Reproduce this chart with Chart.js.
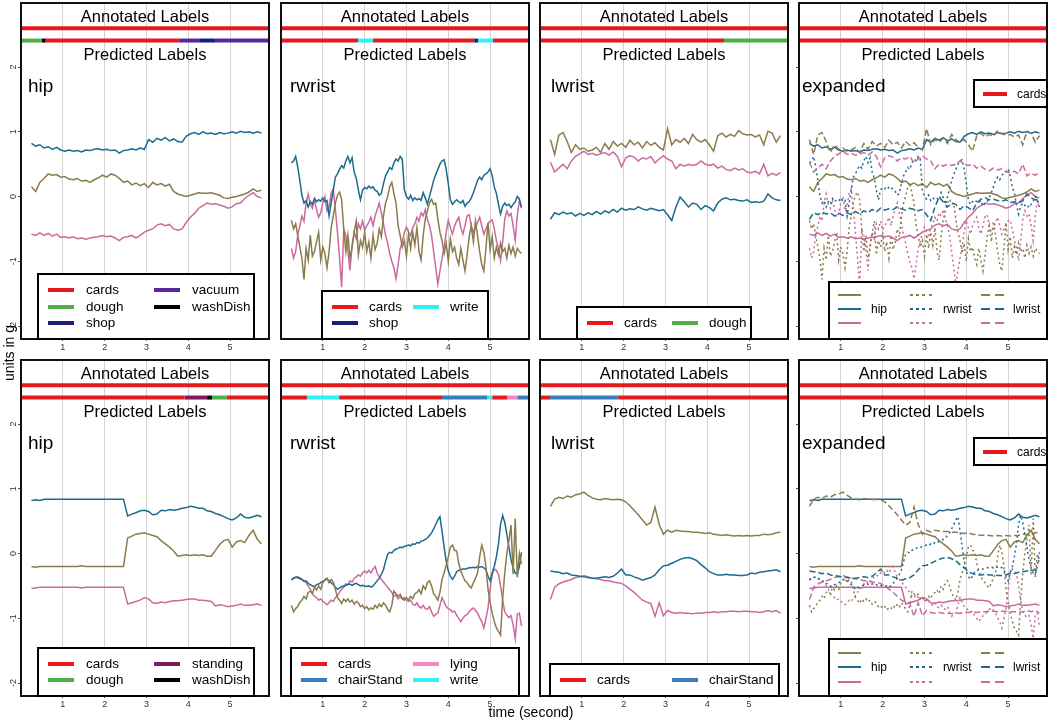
<!DOCTYPE html>
<html><head><meta charset="utf-8">
<script src="https://cdn.jsdelivr.net/npm/chart.js@4.4.1/dist/chart.umd.min.js"></script>
<style>
html,body{margin:0;padding:0;background:#fff;}
body{width:1050px;height:720px;position:relative;overflow:hidden;font-family:"Liberation Sans",Arial,Helvetica,sans-serif;color:#000;}
canvas{position:absolute;}
.txt{position:absolute;white-space:nowrap;line-height:1;z-index:7;}
.lg{position:absolute;background:#fff;border:2px solid #000;box-sizing:border-box;z-index:5;}
.ln{position:absolute;z-index:6;}
</style></head><body>
<script>
// ---------------- DATA ----------------
const T = [0.25,0.35,0.45,0.55,0.65,0.75,0.85,0.95,1.05,1.15,1.25,1.35,1.45,1.55,1.65,1.75,1.85,1.95,2.05,2.15,2.25,2.35,2.45,2.55,2.65,2.75,2.85,2.95,3.05,3.15,3.25,3.35,3.45,3.55,3.65,3.75,3.85,3.95,4.05,4.15,4.25,4.35,4.45,4.55,4.65,4.75,4.85,4.95,5.05,5.15,5.25,5.35,5.45,5.55,5.65,5.75];
const T2 = [0.25,0.3,0.35,0.4,0.45,0.5,0.55,0.6,0.65,0.7,
0.75,0.8,0.85,0.9,0.95,1,1.05,1.1,1.15,1.2,
1.25,1.3,1.35,1.4,1.45,1.5,1.55,1.6,1.65,1.7,
1.75,1.8,1.85,1.9,1.95,2,2.05,2.1,2.15,2.2,
2.25,2.3,2.35,2.4,2.45,2.5,2.55,2.6,2.65,2.7,
2.75,2.8,2.85,2.9,2.95,3,3.05,3.1,3.15,3.2,
3.25,3.3,3.35,3.4,3.45,3.5,3.55,3.6,3.65,3.7,
3.75,3.8,3.85,3.9,3.95,4,4.05,4.1,4.15,4.2,
4.25,4.3,4.35,4.4,4.45,4.5,4.55,4.6,4.65,4.7,
4.75,4.8,4.85,4.9,4.95,5,5.05,5.1,5.15,5.2,
5.25,5.3,5.35,5.4,5.45,5.5,5.55,5.6,5.65,5.7,
5.75];

const xTickValues = [1,2,3,4,5];
const yTickValues = [-2,-1,0,1,2];

// top row: hip
const hipTopOlive = [0.15,0.08,0.22,0.28,0.35,0.33,0.34,0.3,0.31,0.27,
0.26,0.28,0.24,0.25,0.22,0.26,0.29,0.33,0.3,0.35,
0.33,0.28,0.22,0.24,0.18,0.21,0.17,0.2,0.14,0.22,
0.18,0.2,0.16,0.19,0.08,0.04,0.02,0.0,0.02,0.04,
0.06,0.05,0.05,0.06,0.04,0.02,-0.02,-0.03,-0.01,0.0,
0.02,0.04,0.07,0.12,0.08,0.1];
const hipTopBlue = [0.82,0.78,0.8,0.75,0.77,0.73,0.76,0.72,0.7,0.72,
0.7,0.71,0.69,0.72,0.71,0.73,0.74,0.72,0.73,0.71,
0.72,0.67,0.71,0.72,0.74,0.72,0.75,0.73,0.88,0.84,
0.9,0.87,0.91,0.86,0.89,0.85,0.84,0.93,0.97,0.99,
0.96,1.0,0.97,0.98,0.96,0.99,0.97,0.98,1.0,0.98,
1.01,0.99,1.0,0.98,1.0,0.98];
const hipTopPink = [-0.58,-0.6,-0.56,-0.6,-0.57,-0.61,-0.58,-0.63,-0.62,-0.64,
-0.62,-0.65,-0.64,-0.66,-0.64,-0.63,-0.62,-0.6,-0.62,-0.61,
-0.64,-0.68,-0.63,-0.62,-0.6,-0.64,-0.6,-0.55,-0.52,-0.5,
-0.44,-0.42,-0.45,-0.43,-0.5,-0.52,-0.5,-0.4,-0.32,-0.26,
-0.18,-0.14,-0.1,-0.12,-0.11,-0.13,-0.15,-0.18,-0.16,-0.11,
-0.1,-0.03,0.02,0.06,0.0,-0.02];

// top row: rwrist
const rwTopOlive = [-0.37,-0.5,-0.42,-0.6,-0.78,-0.95,-1.28,-0.8,-0.98,-0.6,
-0.92,-0.85,-0.7,-0.55,-0.98,-0.78,-0.88,-1.1,-0.85,-0.48,
-0.3,-0.1,0.02,0.07,-0.05,-0.5,-0.85,-0.6,-0.95,-0.78,
-0.55,-0.38,-0.9,-0.68,-0.78,-0.55,-0.85,-0.7,-0.95,-0.6,
-0.82,-0.72,-0.5,-0.62,-0.3,-0.1,0.0,0.15,0.22,0.05,
-0.1,-0.45,-0.6,-0.78,-0.68,-0.92,-0.58,-0.8,-0.55,-0.75,
-0.48,-0.85,-0.98,-0.6,-0.35,-0.22,-0.1,-0.04,-0.12,-0.1,
-0.35,-0.55,-0.68,-0.88,-0.72,-1.0,-0.65,-0.85,-0.78,-0.95,
-1.05,-0.8,-0.98,-1.15,-0.9,-0.62,-0.45,-0.7,-0.38,-0.6,
-0.85,-1.05,-1.15,-0.8,-0.4,-0.82,-0.62,-0.95,-0.78,-0.9,
-0.72,-0.85,-0.8,-0.95,-0.75,-0.88,-0.78,-0.92,-0.8,-0.85,
-0.88];
const rwTopBlue = [0.52,0.55,0.62,0.46,0.25,0.02,-0.1,-0.06,-0.16,-0.08,
-0.12,-0.03,-0.08,-0.05,-0.07,-0.02,-0.08,-0.06,-0.3,-0.1,
0.1,0.3,0.35,0.42,0.48,0.44,0.55,0.62,0.52,0.6,
0.38,0.28,0.1,-0.05,0.1,0.14,0.12,0.16,0.13,0.15,
0.1,0.08,0.02,0.05,0.2,0.32,0.38,0.45,0.42,0.52,
0.58,0.55,0.62,0.58,0.1,0.0,-0.04,0.02,-0.06,-0.02,
-0.05,-0.03,-0.06,0.06,-0.02,-0.12,0.0,0.12,0.25,0.34,
0.42,0.5,0.55,0.57,0.42,0.2,-0.05,-0.12,-0.08,-0.05,
-0.08,-0.1,-0.06,-0.15,-0.1,-0.08,-0.02,0.06,0.15,0.25,
0.3,0.26,0.33,0.35,0.38,0.43,0.32,0.15,0.05,-0.12,
-0.27,-0.15,-0.1,-0.14,-0.12,-0.17,-0.12,-0.08,0.0,-0.04,
-0.16];
const rwTopPink = [-0.8,-0.95,-0.85,-0.6,-0.45,-0.3,-0.38,-0.1,0.04,-0.12,
-0.18,-0.05,-0.2,-0.32,-0.25,-0.1,0.0,-0.22,-0.15,0.05,
0.12,-0.2,-0.55,-0.95,-1.4,-0.5,-0.6,-0.85,-1.14,-0.75,
-0.55,-0.65,-0.42,-0.5,-0.38,-0.52,-0.45,-0.4,-0.32,-0.45,
-0.3,-0.2,-0.1,-0.25,-0.42,-0.6,-0.72,-0.88,-1.0,-1.1,
-1.27,-1.05,-0.8,-0.7,-0.55,-0.47,-0.55,-0.6,-0.48,-0.42,
-0.32,-0.38,-0.25,-0.3,-0.2,-0.35,-0.45,-0.6,-0.85,-1.1,
-1.35,-1.15,-0.95,-0.78,-0.55,-0.37,-0.48,-0.58,-0.45,-0.38,
-0.32,-0.48,-0.58,-0.45,-0.3,-0.28,-0.45,-0.55,-0.48,-0.4,
-0.32,-0.45,-0.58,-0.5,-0.42,-0.38,-0.36,-0.5,-0.68,-0.8,
-0.99,-0.7,-0.35,-0.22,-0.3,-0.26,-0.45,-0.68,-0.3,-0.06,
-0.18];

// top row: lwrist
const lwTopOlive = [0.88,0.65,0.95,0.99,0.85,0.68,0.8,0.73,0.75,0.7,
0.72,0.76,0.68,0.82,0.73,0.85,0.78,0.82,0.76,0.87,
0.8,0.84,0.75,0.85,0.79,0.83,0.76,0.72,1.05,0.8,
0.88,0.84,0.9,0.82,0.96,0.88,0.84,0.88,0.8,0.7,
0.94,0.98,0.92,0.96,0.93,1.02,0.97,0.95,0.96,0.92,
0.95,0.8,1.01,0.98,0.84,0.94];
const lwTopBlue = [-0.35,-0.25,-0.28,-0.24,-0.27,-0.25,-0.3,-0.26,-0.29,-0.25,
-0.28,-0.23,-0.27,-0.22,-0.25,-0.2,-0.24,-0.18,-0.21,-0.19,
-0.2,-0.16,-0.19,-0.21,-0.18,-0.2,-0.22,-0.2,-0.28,-0.37,
-0.16,-0.01,-0.08,-0.16,-0.1,-0.12,-0.2,-0.14,-0.17,-0.22,
-0.1,-0.04,-0.02,-0.05,-0.04,-0.06,-0.07,-0.05,-0.09,-0.08,
-0.09,-0.07,0.04,-0.02,-0.05,-0.06];
const lwTopPink = [0.53,0.38,0.44,0.5,0.43,0.55,0.62,0.66,0.7,0.65,
0.67,0.64,0.66,0.68,0.64,0.69,0.62,0.46,0.6,0.63,
0.61,0.55,0.6,0.58,0.62,0.52,0.58,0.63,0.58,0.55,
0.43,0.5,0.47,0.5,0.48,0.5,0.55,0.5,0.48,0.5,
0.44,0.47,0.42,0.4,0.44,0.41,0.43,0.38,0.37,0.39,
0.35,0.5,0.32,0.36,0.33,0.37];

// bottom row: hip
const hipBotOlive = [-0.2,-0.21,-0.2,-0.2,-0.2,-0.2,-0.2,-0.2,-0.2,-0.2,
-0.2,-0.2,-0.19,-0.2,-0.2,-0.2,-0.2,-0.2,-0.2,-0.2,
-0.2,-0.2,-0.2,0.24,0.27,0.3,0.31,0.32,0.3,0.28,
0.26,0.2,0.15,0.1,0.04,-0.04,-0.03,-0.02,-0.03,-0.02,
-0.03,-0.02,-0.04,-0.04,0.05,0.14,0.2,0.22,0.1,0.18,
0.2,0.17,0.28,0.36,0.22,0.15];
const hipBotBlue = [0.82,0.83,0.82,0.84,0.84,0.84,0.84,0.84,0.84,0.84,
0.84,0.84,0.84,0.84,0.84,0.84,0.84,0.84,0.84,0.84,
0.84,0.84,0.84,0.58,0.61,0.63,0.66,0.67,0.65,0.6,
0.61,0.67,0.66,0.68,0.67,0.68,0.7,0.71,0.73,0.72,
0.7,0.7,0.66,0.65,0.62,0.6,0.57,0.54,0.52,0.55,
0.61,0.56,0.55,0.57,0.59,0.57];
const hipBotPink = [-0.54,-0.53,-0.52,-0.52,-0.52,-0.52,-0.52,-0.52,-0.52,-0.52,
-0.52,-0.52,-0.53,-0.52,-0.52,-0.52,-0.52,-0.52,-0.52,-0.52,
-0.52,-0.52,-0.52,-0.78,-0.76,-0.74,-0.72,-0.68,-0.7,-0.76,
-0.77,-0.75,-0.76,-0.74,-0.73,-0.73,-0.72,-0.71,-0.7,-0.7,
-0.72,-0.72,-0.73,-0.74,-0.81,-0.79,-0.8,-0.82,-0.81,-0.8,
-0.78,-0.8,-0.8,-0.79,-0.78,-0.8];

// bottom row: rwrist
const rwBotOlive = [-0.8,-0.9,-0.85,-0.82,-0.75,-0.72,-0.66,-0.7,-0.6,-0.58,
-0.62,-0.52,-0.56,-0.5,-0.55,-0.45,-0.4,-0.38,-0.45,-0.4,
-0.44,-0.55,-0.68,-0.72,-0.77,-0.7,-0.74,-0.7,-0.75,-0.72,
-0.78,-0.74,-0.76,-0.82,-0.8,-0.85,-0.82,-0.87,-0.84,-0.86,
-0.8,-0.84,-0.78,-0.82,-0.76,-0.8,-0.86,-0.9,-0.8,-0.58,
-0.62,-0.66,-0.63,-0.7,-0.72,-0.68,-0.72,-0.66,-0.7,-0.62,
-0.6,-0.56,-0.62,-0.5,-0.55,-0.45,-0.42,-0.5,-0.62,-0.66,
-0.72,-0.6,-0.4,-0.3,-0.18,-0.05,0.1,0.13,0.05,0.04,
-0.15,-0.27,-0.35,-0.42,-0.45,-0.5,-0.53,-0.45,-0.38,-0.3,
-0.05,0.13,0.02,-0.2,-0.55,-0.75,-0.92,-1.05,-1.15,-1.2,
-1.26,-0.7,-0.3,0.0,0.2,0.44,-0.32,0.54,-0.37,0.0,
-0.16];
const rwBotBlue = [-0.41,-0.38,-0.37,-0.36,-0.39,-0.4,-0.43,-0.42,-0.46,-0.48,
-0.5,-0.51,-0.48,-0.47,-0.45,-0.43,-0.41,-0.39,-0.42,-0.45,
-0.48,-0.52,-0.55,-0.53,-0.51,-0.5,-0.49,-0.48,-0.47,-0.49,
-0.47,-0.46,-0.48,-0.5,-0.49,-0.5,-0.51,-0.5,-0.52,-0.5,
-0.46,-0.42,-0.38,-0.32,-0.25,-0.12,-0.01,0.02,0.01,0.05,
0.07,0.08,0.1,0.09,0.11,0.12,0.13,0.12,0.15,0.14,
0.17,0.16,0.19,0.2,0.22,0.24,0.28,0.32,0.38,0.45,
0.52,0.57,0.35,0.1,-0.12,-0.27,-0.35,-0.4,-0.35,-0.28,
-0.26,-0.25,-0.24,-0.24,-0.23,-0.22,-0.22,-0.21,-0.22,-0.2,
-0.21,-0.2,-0.22,-0.25,-0.35,-0.42,-0.3,-0.2,-0.05,0.15,
0.45,0.59,0.48,0.3,0.1,-0.1,-0.21,-0.3,-0.32,-0.2,
0.02];
const rwBotPink = [-0.4,-0.38,-0.36,-0.38,-0.37,-0.4,-0.42,-0.45,-0.5,-0.55,
-0.62,-0.66,-0.68,-0.72,-0.7,-0.74,-0.76,-0.79,-0.76,-0.72,
-0.74,-0.68,-0.65,-0.6,-0.55,-0.52,-0.47,-0.48,-0.42,-0.44,
-0.38,-0.36,-0.33,-0.35,-0.3,-0.27,-0.3,-0.26,-0.3,-0.24,
-0.2,-0.3,-0.36,-0.4,-0.44,-0.48,-0.52,-0.56,-0.6,-0.66,
-0.64,-0.7,-0.67,-0.7,-0.68,-0.72,-0.74,-0.72,-0.78,-0.8,
-0.76,-0.82,-0.84,-0.8,-0.85,-0.86,-0.82,-0.9,-0.97,-0.94,
-0.92,-0.8,-0.68,-0.75,-0.82,-0.85,-0.87,-0.9,-0.89,-0.95,
-1.0,-1.05,-1.0,-0.96,-0.94,-0.9,-0.86,-0.84,-0.88,-0.92,
-0.99,-1.05,-1.15,-1.0,-0.84,-0.55,-0.32,-0.24,-0.26,-0.32,
-0.5,-0.72,-0.9,-0.95,-0.99,-0.96,-1.1,-1.31,-0.94,-0.92,
-1.12];

// bottom row: lwrist
const lwBotOlive = [0.73,0.84,0.87,0.85,0.89,0.87,0.91,0.92,0.95,0.9,
0.86,0.84,0.83,0.85,0.84,0.83,0.84,0.83,0.8,0.74,
0.67,0.6,0.52,0.44,0.48,0.72,0.45,0.3,0.36,0.33,
0.36,0.35,0.34,0.34,0.33,0.33,0.32,0.31,0.32,0.3,
0.29,0.28,0.29,0.28,0.27,0.28,0.27,0.28,0.27,0.28,
0.28,0.3,0.29,0.3,0.32,0.33];
const lwBotBlue = [-0.27,-0.28,-0.29,-0.31,-0.3,-0.33,-0.34,-0.35,-0.36,-0.37,
-0.38,-0.38,-0.37,-0.36,-0.37,-0.35,-0.3,-0.24,-0.33,-0.33,
-0.36,-0.38,-0.41,-0.39,-0.37,-0.33,-0.25,-0.19,-0.18,-0.15,
-0.12,-0.09,-0.07,-0.06,-0.08,-0.11,-0.17,-0.22,-0.28,-0.31,
-0.33,-0.33,-0.32,-0.33,-0.33,-0.34,-0.34,-0.33,-0.3,-0.31,
-0.29,-0.28,-0.27,-0.26,-0.25,-0.28];
const lwBotPink = [-0.71,-0.52,-0.47,-0.44,-0.42,-0.4,-0.37,-0.36,-0.34,-0.36,
-0.38,-0.39,-0.4,-0.42,-0.42,-0.44,-0.45,-0.46,-0.5,-0.55,
-0.6,-0.66,-0.72,-0.75,-0.77,-0.97,-0.76,-0.96,-0.88,-0.91,
-0.92,-0.91,-0.92,-0.92,-0.93,-0.92,-0.92,-0.91,-0.91,-0.9,
-0.91,-0.9,-0.9,-0.89,-0.89,-0.9,-0.89,-0.89,-0.9,-0.9,
-0.91,-0.9,-0.88,-0.9,-0.88,-0.92];

// activity label segments (names + boundaries in seconds)
const annLabels = ['cards'];
const annBounds = [0, 5.93];
const predTopHipLabels = ['dough','washDish','cards','vacuum','shop','vacuum'];
const predTopHipBounds = [0,0.5,0.59,3.8,4.28,4.64,5.93];
const predTopRwLabels = ['cards','write','cards','shop','write','cards'];
const predTopRwBounds = [0,1.84,2.2,4.62,4.71,5.07,5.93];
const predTopLwLabels = ['cards','dough'];
const predTopLwBounds = [0,4.4,5.93];
const predTopExLabels = ['cards'];
const predTopExBounds = [0,5.93];
const predBotHipLabels = ['cards','standing','washDish','dough','cards'];
const predBotHipBounds = [0,3.91,4.45,4.57,4.92,5.93];
const predBotRwLabels = ['cards','write','cards','chairStand','write','cards','lying','chairStand'];
const predBotRwBounds = [0,0.62,1.39,3.85,4.93,5.05,5.41,5.65,5.93];
const predBotLwLabels = ['cards','chairStand','cards'];
const predBotLwBounds = [0,0.24,1.87,5.93];
const predBotExLabels = ['cards'];
const predBotExBounds = [0,5.93];

// legend entries
const legTopHip = [['cards','dough','shop'],['vacuum','washDish']];
const legTopRw = [['cards','shop'],['write']];
const legTopLw = [['cards'],['dough']];
const legTopEx = [['cards']];
const legBotHip = [['cards','dough'],['standing','washDish']];
const legBotRw = [['cards','chairStand'],['lying','write']];
const legBotLw = [['cards'],['chairStand']];
const legBotEx = [['cards']];
const sensorNames = ['hip','rwrist','lwrist'];

// ---------------- STYLE / LAYOUT ----------------
const FONT = "'Liberation Sans', Arial, Helvetica, sans-serif";
Chart.defaults.font.family = FONT;
const X_MIN = 0, X_MAX = 5.93, Y_MIN = -2.2, Y_MAX = 2.99;
const Y_ANN = 2.6, Y_PRED = 2.41;
const COL_LEFT = [21, 281, 540, 799];
const ROW_TOP = [3, 360];
const PW = 248, PH = 336;
const PAD = {l:24, r:4, t:4, b:18};
const NAME_DX = {hip:7, rwrist:9, lwrist:11, expanded:3};
const SCOL = ['#8b7c4b', '#1c6a8d', '#cb6a9e'];
const LCOL = {cards:'#e41a1c', dough:'#4daf4a', shop:'#1c1c7a', vacuum:'#56289a', washDish:'#000000',
  write:'#2ff0f5', chairStand:'#3a7dbb', lying:'#f585c0', standing:'#7f1a5e'};
const DASH = {solid:[], dotted:[2,3], dashed:[6,3]};

const framePlugin = {id:'frame', afterDatasetsDraw(chart){
  const a = chart.chartArea, ctx = chart.ctx;
  ctx.save(); ctx.strokeStyle = '#111'; ctx.lineWidth = 2;
  ctx.strokeRect(a.left, a.top, a.right - a.left, a.bottom - a.top);
  ctx.restore();
}};
const yLabelPlugin = {id:'ylab', afterDraw(chart){
  const s = chart.scales.y, a = chart.chartArea, ctx = chart.ctx;
  ctx.save(); ctx.fillStyle = '#333'; ctx.font = '9px ' + FONT;
  ctx.textAlign = 'center'; ctx.textBaseline = 'middle';
  yTickValues.forEach(v => {
    const y = s.getPixelForValue(v);
    ctx.save(); ctx.translate(a.left - 7, y); ctx.rotate(-Math.PI/2);
    ctx.fillText(String(v), 0, 0); ctx.restore();
  });
  ctx.restore();
}};

function segDatasets(labels, bounds, yv){
  return labels.map((lab, i) => ({
    data:[{x:bounds[i], y:yv},{x:bounds[i+1], y:yv}],
    borderColor: LCOL[lab], borderWidth: 4, pointRadius: 0, borderCapStyle:'butt', fill:false
  }));
}
function lineDataset(times, vals, colorIdx, dash){
  return {data: times.map((t,i) => ({x:t, y:vals[i]})), borderColor: SCOL[colorIdx],
    borderWidth: 1.5, pointRadius: 0, borderDash: DASH[dash], fill:false, tension:0};
}

function addText(str, x, y, size, center){
  const d = document.createElement('div');
  d.className = 'txt'; d.textContent = str;
  d.style.left = x + 'px'; d.style.top = y + 'px'; d.style.fontSize = size + 'px';
  d.style.transform = center ? 'translate(-50%,-50%)' : 'translateY(-50%)';
  document.body.appendChild(d); return d;
}
function addBox(b){
  const d = document.createElement('div'); d.className = 'lg';
  d.style.left = b[0]+'px'; d.style.top = b[1]+'px';
  d.style.width = (b[2]-b[0])+'px'; d.style.height = (b[3]-b[1])+'px';
  document.body.appendChild(d);
}
function addLine(x, y, w, th, color, pat){
  const d = document.createElement('div'); d.className = 'ln';
  d.style.left = x+'px'; d.style.top = (y - th/2)+'px'; d.style.width = w+'px'; d.style.height = th+'px';
  d.style.background = pat ? `repeating-linear-gradient(to right, ${color} 0 ${pat[0]}px, transparent ${pat[0]}px ${pat[0]+pat[1]}px)` : color;
  document.body.appendChild(d);
}

function buildPanel(p){
  const L = COL_LEFT[p.col], TP = ROW_TOP[p.row];
  const cv = document.createElement('canvas');
  cv.width = PW + PAD.l + PAD.r; cv.height = PH + PAD.t + PAD.b;
  cv.style.left = (L - PAD.l) + 'px'; cv.style.top = (TP - PAD.t) + 'px';
  cv.style.width = cv.width + 'px'; cv.style.height = cv.height + 'px';
  document.body.appendChild(cv);
  const datasets = [].concat(
    segDatasets(annLabels, annBounds, Y_ANN),
    segDatasets(p.pred[0], p.pred[1], Y_PRED),
    p.lines.map(l => lineDataset(l[0], l[1], l[2], l[3]))
  );
  new Chart(cv, {
    type:'line', data:{datasets},
    options:{
      responsive:false, animation:false, devicePixelRatio:1, events:[],
      layout:{padding:{top:PAD.t, right:PAD.r, left:0, bottom:0}},
      plugins:{legend:{display:false}, tooltip:{enabled:false}},
      scales:{
        x:{type:'linear', min:X_MIN, max:X_MAX,
          afterBuildTicks(s){ s.ticks = xTickValues.map(v => ({value:v})); },
          afterFit(s){ s.height = PAD.b; },
          ticks:{font:{size:9, family:FONT}, color:'#333', padding:1, maxRotation:0, autoSkip:false, callback:v => String(v)},
          grid:{color:'#d3d3d3', lineWidth:1, drawTicks:true, tickLength:2, tickColor:'#555'},
          border:{display:false}},
        y:{type:'linear', min:Y_MIN, max:Y_MAX,
          afterBuildTicks(s){ s.ticks = yTickValues.map(v => ({value:v})); },
          afterFit(s){ s.width = PAD.l; },
          ticks:{display:false},
          grid:{display:p.yMarks, drawOnChartArea:false, drawTicks:true, tickLength:3, tickColor:'#555'},
          border:{display:false}}
      }
    },
    plugins: p.yLab ? [framePlugin, yLabelPlugin] : [framePlugin]
  });
  // texts
  addText('Annotated Labels', L + PW/2, TP + 12.5, 16.5, true);
  addText('Predicted Labels', L + PW/2, TP + 51, 16.5, true);
  addText(p.name, L + NAME_DX[p.name], TP + 82, 19, false);
  // legends
  const g = p.leg;
  if (g.kind === 'labels'){
    addBox(g.box);
    p.legItems.forEach((col, ci) => col.forEach((lab, ri) => {
      addLine(g.cols[ci], g.rows[ri], g.lineW, 4, LCOL[lab]);
      addText(lab, g.cols[ci] + g.textDx, g.rows[ri], g.fs, false);
    }));
  }
  if (p.exLeg){
    const e = p.exLeg;
    addBox(e.box);
    const pats = [null, [3,3.2], [9,5]];
    sensorNames.forEach((nm, ci) => {
      SCOL.forEach((c, ri) => addLine(e.cols[ci], e.rows[ri], 23, 2, c, pats[ci]));
      addText(nm, e.texts[ci], e.rows[1], 12, false);
    });
  }
}

function exLines(a){ // a = [hipO,hipB,hipP, rwO,rwB,rwP, lwO,lwB,lwP]
  return [[T,a[6],0,'dashed'],[T,a[7],1,'dashed'],[T,a[8],2,'dashed'],
          [T2,a[3],0,'dotted'],[T2,a[4],1,'dotted'],[T2,a[5],2,'dotted'],
          [T,a[0],0,'solid'],[T,a[1],1,'solid'],[T,a[2],2,'solid']];
}

const panels = [
  {row:0, col:0, name:'hip', yLab:true, yMarks:true,
   lines:[[T,hipTopOlive,0,'solid'],[T,hipTopBlue,1,'solid'],[T,hipTopPink,2,'solid']],
   pred:[predTopHipLabels, predTopHipBounds], legItems:legTopHip,
   leg:{kind:'labels', box:[37,273,255,340], cols:[48,154], rows:[290,307,323], lineW:26, textDx:38, fs:13.5}},
  {row:0, col:1, name:'rwrist', yLab:false, yMarks:false,
   lines:[[T2,rwTopOlive,0,'solid'],[T2,rwTopBlue,1,'solid'],[T2,rwTopPink,2,'solid']],
   pred:[predTopRwLabels, predTopRwBounds], legItems:legTopRw,
   leg:{kind:'labels', box:[321,290,489,340], cols:[332,413], rows:[307,323], lineW:26, textDx:37, fs:13.5}},
  {row:0, col:2, name:'lwrist', yLab:false, yMarks:false,
   lines:[[T,lwTopOlive,0,'solid'],[T,lwTopBlue,1,'solid'],[T,lwTopPink,2,'solid']],
   pred:[predTopLwLabels, predTopLwBounds], legItems:legTopLw,
   leg:{kind:'labels', box:[576,306,752,340], cols:[587,672], rows:[323], lineW:26, textDx:37, fs:13.5}},
  {row:0, col:3, name:'expanded', yLab:false, yMarks:true,
   lines:exLines([hipTopOlive,hipTopBlue,hipTopPink,rwTopOlive,rwTopBlue,rwTopPink,lwTopOlive,lwTopBlue,lwTopPink]),
   pred:[predTopExLabels, predTopExBounds], legItems:legTopEx,
   leg:{kind:'labels', box:[973,79,1048,108], cols:[983], rows:[93.5], lineW:24, textDx:34, fs:12},
   exLeg:{box:[828,281,1048,340], cols:[838,910,981], texts:[871,943,1013], rows:[295,309,323]}},
  {row:1, col:0, name:'hip', yLab:true, yMarks:true,
   lines:[[T,hipBotOlive,0,'solid'],[T,hipBotBlue,1,'solid'],[T,hipBotPink,2,'solid']],
   pred:[predBotHipLabels, predBotHipBounds], legItems:legBotHip,
   leg:{kind:'labels', box:[37,647,255,697], cols:[48,154], rows:[664,680], lineW:26, textDx:38, fs:13.5}},
  {row:1, col:1, name:'rwrist', yLab:false, yMarks:false,
   lines:[[T2,rwBotOlive,0,'solid'],[T2,rwBotBlue,1,'solid'],[T2,rwBotPink,2,'solid']],
   pred:[predBotRwLabels, predBotRwBounds], legItems:legBotRw,
   leg:{kind:'labels', box:[290,647,520,697], cols:[301,413], rows:[664,680], lineW:26, textDx:37, fs:13.5}},
  {row:1, col:2, name:'lwrist', yLab:false, yMarks:false,
   lines:[[T,lwBotOlive,0,'solid'],[T,lwBotBlue,1,'solid'],[T,lwBotPink,2,'solid']],
   pred:[predBotLwLabels, predBotLwBounds], legItems:legBotLw,
   leg:{kind:'labels', box:[549,663,780,697], cols:[560,672], rows:[680], lineW:26, textDx:37, fs:13.5}},
  {row:1, col:3, name:'expanded', yLab:false, yMarks:true,
   lines:exLines([hipBotOlive,hipBotBlue,hipBotPink,rwBotOlive,rwBotBlue,rwBotPink,lwBotOlive,lwBotBlue,lwBotPink]),
   pred:[predBotExLabels, predBotExBounds], legItems:legBotEx,
   leg:{kind:'labels', box:[973,437,1048,466], cols:[983], rows:[451.5], lineW:24, textDx:34, fs:12},
   exLeg:{box:[828,638,1048,697], cols:[838,910,981], texts:[871,943,1013], rows:[653,667,682]}}
];
panels.forEach(buildPanel);

// axis titles
const yt = addText('units in g', 9, 353, 14, true);
yt.style.transform = 'translate(-50%,-50%) rotate(-90deg)';
addText('time (second)', 531, 712, 14, true);
</script>
</body></html>
